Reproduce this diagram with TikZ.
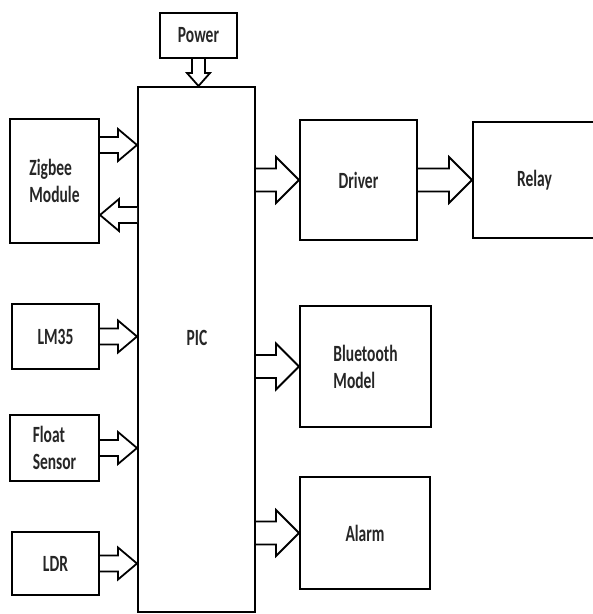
\documentclass[tikz,border=0pt]{standalone}
\usepackage{fontspec}
\setmainfont{Carlito}
\usepackage{graphicx}
\usetikzlibrary{calc}

% stretched letters, as in the scanned drawing
\newcommand{\tall}[1]{\scalebox{1}[1.5]{#1}}

% hollow block arrow: from, to, shaft half-width, head half-width, head length
\newcommand{\fatarrow}[5]{%
  \path (#1) coordinate (fa-s) (#2) coordinate (fa-t)
        ($(fa-t)!#5!(fa-s)$) coordinate (fa-h);
  \draw[fatline]
    ($(fa-s)!#3!90:(fa-t)$) -- ($(fa-h)!#3!90:(fa-t)$)
    -- ($(fa-h)!#4!90:(fa-t)$) -- (fa-t)
    -- ($(fa-h)!#4!-90:(fa-t)$) -- ($(fa-h)!#3!-90:(fa-t)$)
    -- ($(fa-s)!#3!-90:(fa-t)$);
}
\newcommand{\smallarrow}[2]{\fatarrow{#1}{#2}{8pt}{16pt}{19pt}}
\newcommand{\bigarrow}[2]{\fatarrow{#1}{#2}{11.5pt}{23pt}{23pt}}

\begin{document}
\begin{tikzpicture}[
  x=1pt, y=-1pt,
  blk/.style 2 args={
    draw=black, line width=2pt, fill=white,
    minimum width=#1, minimum height=#2, inner sep=0pt
  },
  txt/.style={
    font=\fontsize{15.5}{27}\selectfont\bfseries, text=black!85,
    align=left, inner sep=0pt
  },
  fatline/.style={draw=black, line width=1.8pt, fill=white, line join=miter},
]

% Background
\useasboundingbox (0,0) rectangle (593,614);
\clip (0,0) rectangle (593,614);
\fill[white] (0,0) rectangle (593,614);

% =============================================
% Centre: controller and its supply
% =============================================
\node[blk={117pt}{525pt}] (pic) at (196.5,349.5) {};
\node[txt] (piclbl) at (197,338) {\tall{PIC}};

\node[blk={77pt}{45pt}, txt] (power) at (198.5,35.5) {\tall{Power}};

% =============================================
% LEFT: inputs
% =============================================
\node[blk={89pt}{124pt}, txt] (zig) at (54.5,181)
  {\tall{Zigbee}\\\tall{Module}};
\node[blk={87pt}{65pt}, txt] (lm) at (55.5,336.5) {\tall{LM35}};
\node[blk={89pt}{66pt}, txt] (flt) at (54.5,448)
  {\tall{Float}\\\tall{Sensor}};
\node[blk={87pt}{63pt}, txt] (ldr) at (55.5,563.5) {\tall{LDR}};

% =============================================
% RIGHT: outputs
% =============================================
\node[blk={117pt}{120pt}, txt] (drv) at (358.5,180) {\tall{Driver}};
\node[blk={123pt}{116pt}, txt] (rel) at (534.5,180) {\tall{Relay}};
\node[blk={131pt}{121pt}, txt] (bt) at (365.5,366.5)
  {\tall{Bluetooth}\\\tall{Model}};
\node[blk={130pt}{112pt}, txt] (alm) at (365,533) {\tall{Alarm}};

% Zigbee link (both ways)
\coordinate (zigtx) at ([yshift=36pt]zig.east);
\coordinate (zigrx) at ([yshift=-34pt]zig.east);

% Arrows: inputs -> PIC
\smallarrow{zigtx}{pic.west |- zigtx}
\smallarrow{pic.west |- zigrx}{zigrx}
\smallarrow{lm.east}{pic.west |- lm.east}
\smallarrow{flt.east}{pic.west |- flt.east}
\smallarrow{ldr.east}{pic.west |- ldr.east}
\fatarrow{power.south}{power.south |- pic.north}{6.5pt}{11.5pt}{13pt}

% Arrows: PIC -> outputs
\bigarrow{pic.east |- drv.west}{drv.west}
\bigarrow{drv.east}{rel.west}
\bigarrow{pic.east |- bt.west}{bt.west}
\bigarrow{pic.east |- alm.west}{alm.west}

\end{tikzpicture}
\end{document}
